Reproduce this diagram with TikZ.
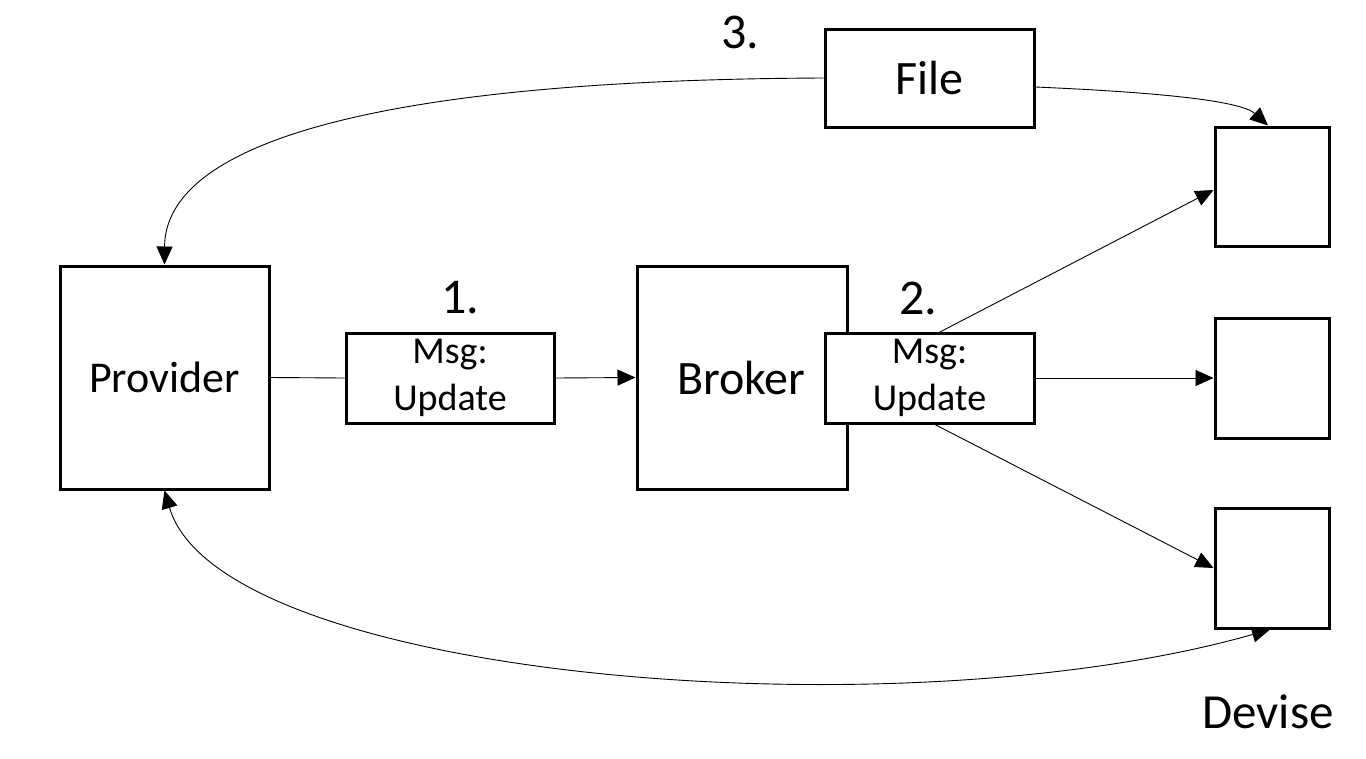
\documentclass[tikz,border=0pt]{standalone}
\usepackage{fontspec}
\setmainfont{Carlito}
\usetikzlibrary{arrows.meta}
\tikzset{
  box/.style={draw, line width=3pt, fill=white, inner sep=0pt, align=center},
  conn/.style={line width=0.9pt},
  tip/.tip={Triangle[length=18pt, width=16pt]},
  arr/.style={conn, -tip},
  darr/.style={conn, tip-tip},
  lbl/.style={inner sep=0pt, font=\fontsize{50}{56}\selectfont},
  msgbox/.style={box, minimum height=90pt, font=\fontsize{38}{47}\selectfont}
}
\begin{document}
\begin{tikzpicture}[x=1pt, y=-1pt]
\useasboundingbox (0,0) rectangle (1366,758);
\node[box, minimum width=209pt, minimum height=223pt, font=\fontsize{44}{50}\selectfont] (prov) at (164.5,377.5) {Provider};
\node[box, minimum width=210pt, minimum height=223pt, font=\fontsize{48}{52}\selectfont, text width=200pt, align=left] (brok) at (742,377.5) {\hspace*{35pt}Broker};
\node[msgbox, minimum width=208pt] (msg1) at (450,378) {\raisebox{-3pt}{Msg:}\\\raisebox{-3pt}{Update}};
\node[msgbox, minimum width=209pt] (msg2) at (929.5,378) {\raisebox{-3pt}{Msg:}\\\raisebox{-3pt}{Update}};
\node[box, minimum width=209pt, minimum height=98pt, font=\fontsize{48}{52}\selectfont] (file) at (929.5,78) {File};
\node[box, minimum width=114pt, minimum height=119pt] (d1) at (1272,186.5) {};
\node[box, minimum width=114pt, minimum height=120pt] (d2) at (1272,378) {};
\node[box, minimum width=114pt, minimum height=120pt] (d3) at (1272,568) {};
\node[lbl] (n1) at (460,298) {1.};
\node[lbl] (n2) at (918,298) {2.};
\node[lbl] (n3) at (740,32) {3.};
\node[lbl, font=\fontsize{49}{54}\selectfont] (dev) at (1268,712) {Devise};
\coordinate (m2t) at (938,333);
\coordinate (m2b) at (932,423);
\draw[conn] (prov.east) -- (msg1.west);
\draw[arr] (msg1.east) -- (brok.west);
\draw[arr] (msg2.east) -- (d2.west);
\draw[arr] (m2t) -- (d1.west |- 0,190);
\draw[arr] (m2b) -- (d3.west |- 0,568);
\draw[arr] (file.west) .. controls (350,80) and (165,150) .. (prov.north);
\draw[arr] ([yshift=-9pt]file.east) .. controls (1150,92) and (1240,100) .. ([xshift=-4pt]d1.north);
\draw[darr] (prov.south) .. controls (220,680) and (900,735) .. ([xshift=-2pt]d3.south);
\end{tikzpicture}
\end{document}
